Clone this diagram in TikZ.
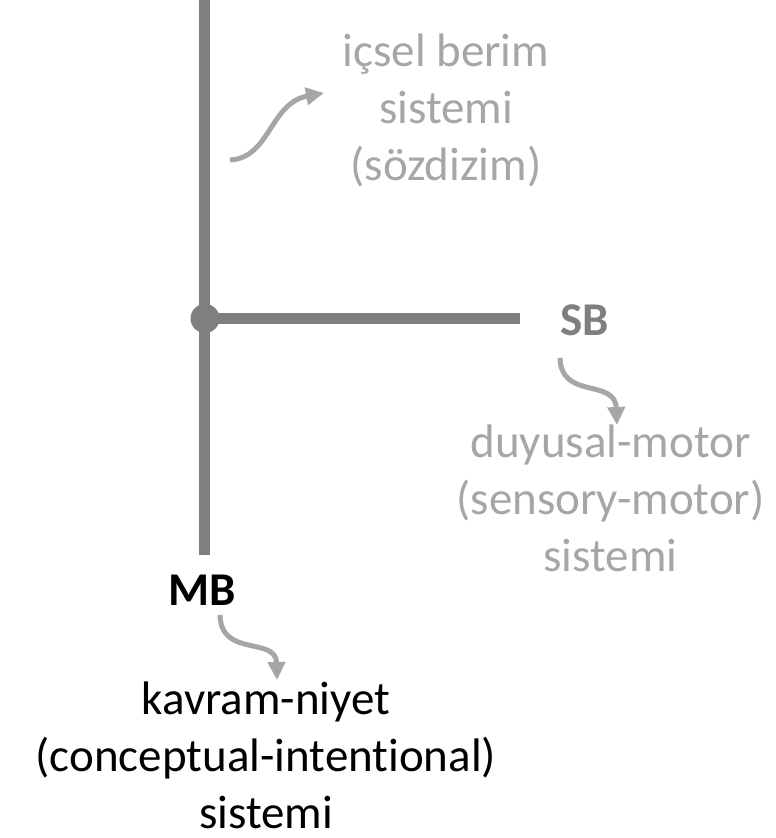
\documentclass[tikz,border=0pt]{standalone}
\usepackage{fontspec}
\setmainfont{Carlito}[Ligatures=NoCommon]
\usetikzlibrary{arrows.meta, positioning}
\definecolor{LineGray}{HTML}{7F7F7F}
\definecolor{SoftGray}{HTML}{A6A6A6}
\definecolor{TxtMain} {HTML}{000000}

\begin{document}
\begin{tikzpicture}[
  x=1pt, y=-1pt,
  every node/.style={font=\fontsize{47}{57}\selectfont, inner sep=0pt},
  axis/.style={line width=11pt, color=LineGray},
  sysname/.style={text=SoftGray, align=center, anchor=base},
  levelmark/.style={font=\fontsize{47}{57}\selectfont\bfseries, anchor=base},
  curly/.style={-{Triangle[length=18pt, width=17pt]}, line width=5pt,
                color=SoftGray},
]
  \useasboundingbox (0,0) rectangle (776,838);

  % the two branches
  \coordinate (top)    at (204.5,0);
  \coordinate (bottom) at (204.5,555);
  \coordinate (sbend)  at (520,318.5);
  \node[circle, fill=LineGray, minimum size=29pt] (junc) at (205,318.5) {};

  \node[levelmark, text=LineGray] (sb) at (585,335) {SB};
  \node[levelmark, text=TxtMain]  (mb) at (202,605) {MB};

  \node[sysname] (syntax) at (446,180)
    {içsel berim\\sistemi\\(sözdizim)};
  \node[sysname] (sensory) at (610.5,571)
    {duyusal-motor\\(sensory-motor)\\sistemi};
  \node[sysname, text=TxtMain] (concept) at (266,828)
    {kavram-niyet\\(conceptual-intentional)\\sistemi};

  \draw[axis] (top) -- (bottom);
  \draw[axis] (junc.center) -- (sbend);

  % curved pointers to the system names
  \coordinate (syn-from) at (230,160);
  \coordinate (syn-to)   at (324,93);
  \coordinate (sb-from)  at (560,358);
  \coordinate (sb-to)    at (617,425);
  \coordinate (mb-from)  at (220,615);
  \coordinate (mb-to)    at (277,680);
  \draw[curly] (syn-from) .. controls (270,158) and (270,103) .. (syn-to);
  \draw[curly] (sb-from) .. controls (561,400) and (615,378) .. (sb-to);
  \draw[curly] (mb-from) .. controls (221,658) and (276,636) .. (mb-to);
\end{tikzpicture}
\end{document}
